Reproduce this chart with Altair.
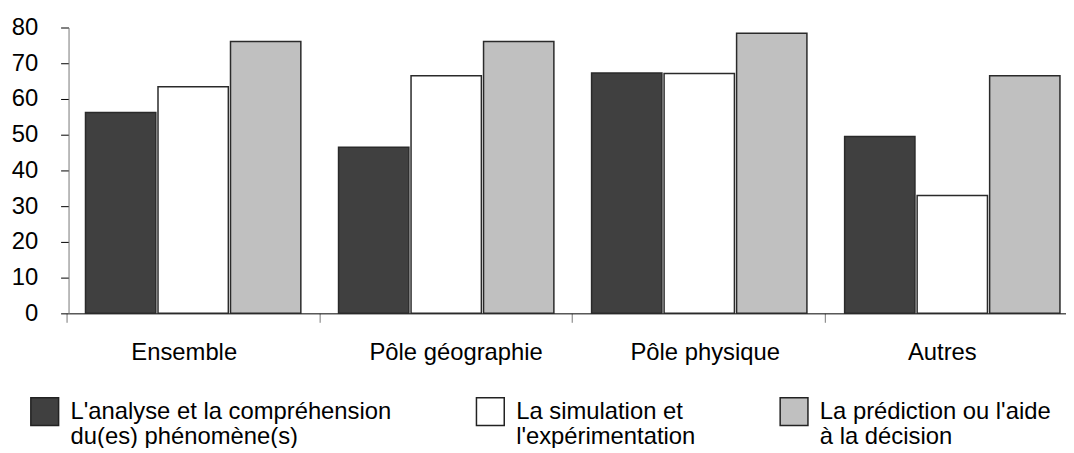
import altair as alt
import pandas as pd

groups = ["Ensemble", "Pôle géographie", "Pôle physique", "Autres"]
series = [
    "L'analyse et la compréhension|du(es) phénomène(s)",
    "La simulation et|l'expérimentation",
    "La prédiction ou l'aide|à la décision",
]
analyse = [56.2, 46.5, 67.3, 49.5]
simulation = [63.4, 66.5, 67.1, 33.0]
prediction = [76.1, 76.1, 78.4, 66.5]
y_ticks = [0, 10, 20, 30, 40, 50, 60, 70, 80]

colors = ["#404040", "#ffffff", "#c0c0c0"]
label_shift = [-9, 10, 6, -10]
FONT = "Liberation Sans"

rows = []
for i, g in enumerate(groups):
    for s, vals in zip(series, [analyse, simulation, prediction]):
        rows.append({"group": g, "series": s, "value": vals[i]})
df = pd.DataFrame(rows)

label_offset = {
    "condition": [
        {"test": f"datum.value === '{g}'", "value": d}
        for g, d in zip(groups, label_shift)
    ],
    "value": 0,
}

chart = (
    alt.Chart(df)
    .mark_bar(stroke="#2a2a2a", strokeWidth=1.5)
    .encode(
        x=alt.X(
            "group:N",
            sort=groups,
            scale=alt.Scale(domain=groups, range=[0, 1016], paddingInner=0.149, paddingOuter=0.067),
            axis=alt.Axis(
                title=None,
                labelAngle=0,
                bandPosition=-0.0876,
                domainColor="#000000",
                domainWidth=1,
                tickColor="#777777",
                tickSize=9,
                labelPadding=37,
                labelBaseline="alphabetic",
                labelFont=FONT,
                labelFontSize=24,
                labelColor="#000000",
                labelOffset=label_offset,
            ),
        ),
        xOffset=alt.XOffset("series:N", sort=series, scale=alt.Scale(domain=series, paddingInner=0.03)),
        y=alt.Y(
            "value:Q",
            scale=alt.Scale(domain=[0, 80], nice=False),
            axis=alt.Axis(
                title=None,
                values=y_ticks,
                grid=False,
                domainColor="#777777",
                tickColor="#000000",
                tickSize=8,
                labelPadding=23,
                labelFont=FONT,
                labelFontSize=24,
                labelColor="#000000",
            ),
        ),
        color=alt.Color(
            "series:N",
            sort=series,
            scale=alt.Scale(domain=series, range=colors),
            legend=alt.Legend(
                title=None,
                orient="none",
                legendX=-39,
                legendY=372,
                direction="horizontal",
                columns=3,
                symbolType="square",
                symbolSize=784,
                symbolStrokeColor="#222222",
                symbolStrokeWidth=1.5,
                symbolOpacity=1,
                labelFont=FONT,
                labelFontSize=24,
                labelColor="#000000",
                labelOffset=11,
                labelLimit=500,
                columnPadding=82,
                labelExpr="split(datum.label, '|')",
            ),
        ),
    )
    .properties(
        width=1005,
        height=288,
        padding={"left": 61, "top": 18, "right": 0, "bottom": 134},
        autosize=alt.AutoSizeParams(type="none"),
    )
    .configure(font=FONT)
    .configure_view(stroke=None)
)

chart.save("out.html", embed_options={"renderer": "svg", "actions": False})
